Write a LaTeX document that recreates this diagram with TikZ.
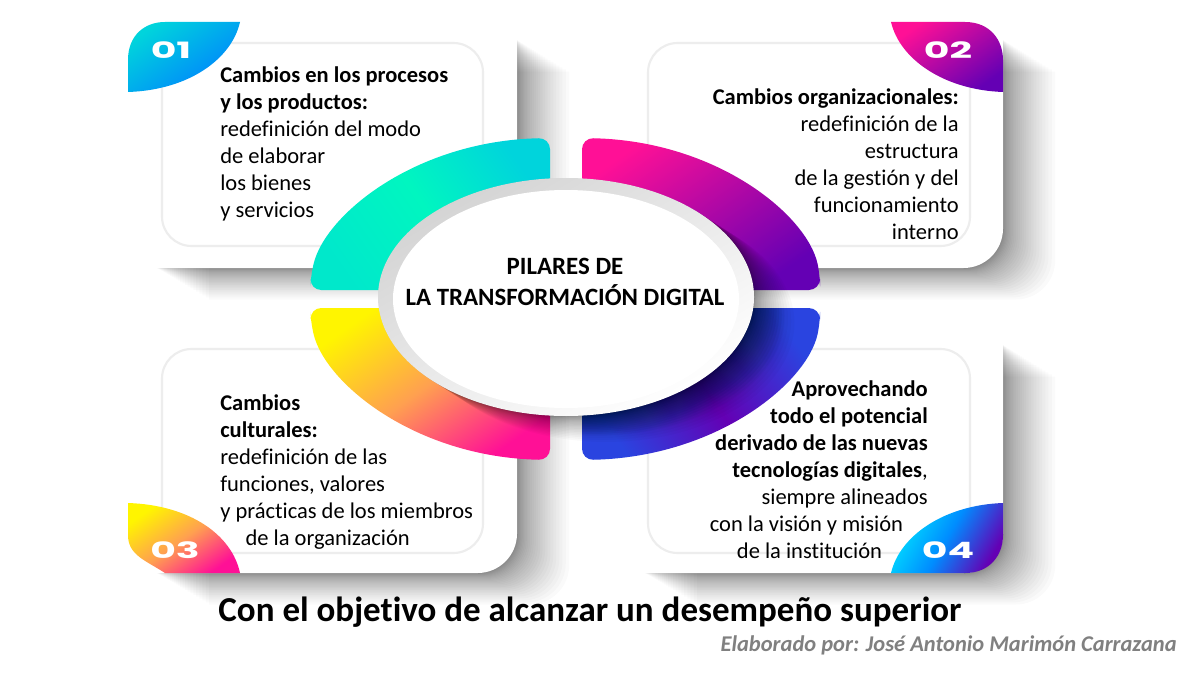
\documentclass[tikz,border=0pt]{standalone}
\usepackage{fontspec}
\setmainfont[Ligatures=NoCommon]{Carlito}
\newfontfamily\tagfont{Poppins}
\usetikzlibrary{shapes.geometric}
\definecolor{springA}{HTML}{00F6C0}
\definecolor{cyanA}{HTML}{00D4DC}
\definecolor{pinkA}{HTML}{FF1096}
\definecolor{purpleA}{HTML}{6400B4}
\definecolor{orangeA}{HTML}{FFA050}
\definecolor{yellowA}{HTML}{FFF500}
\definecolor{blueA}{HTML}{2A44E0}
\definecolor{navyA}{HTML}{0A2A80}
\begin{document}
\begin{tikzpicture}[x=0.025cm,y=-0.025cm]
		\tikzset{shadowlayer/.style = {black, opacity=0.02},
			ellipselayer/.style = {black, opacity=0.022},
			navylayer/.style = {navyA, opacity=0.07},
			innerbox/.style = {draw=black!7, line width=1.5pt, rounded corners=21pt},
			tagnum/.style = {white, font=\tagfont\bfseries\fontsize{16}{16}\selectfont, xscale=1.75, transform shape},
			body/.style = {font=\fontsize{16}{19.2}\selectfont, inner sep=0pt},
			arcshape/.style = {rounded corners=8pt}}

		\fill[white] (0,0) rectangle (1200,675);
		\useasboundingbox (0,0) rectangle (1200,675);

		\foreach \xa/\ya/\xb/\yb in {157/40/517/268, 650/40/1003/268, 157/345/517/573, 645/345/1003/573} {
			\foreach \i in {1,...,30} {
				\fill[shadowlayer, shift={(\i*\i*0.058,\i*\i*0.035)}] (\xa,\ya) -- (\xb,\ya) [rounded corners=28pt] -- (\xb,\yb) [sharp corners] -- (\xa,\yb) -- cycle;
			}
		}
		\foreach \xa/\ya/\xb/\yb in {135/40/517/268, 600/40/1003/268, 135/345/517/573, 600/345/1003/573} {
			\fill[white] (\xa,\ya) -- (\xb,\ya) [rounded corners=28pt] -- (\xb,\yb) [sharp corners] -- (\xa,\yb) -- cycle;
		}

		\draw[innerbox] (162,43) rectangle (483,246);
		\draw[innerbox] (648,43) rectangle (970,246);
		\draw[innerbox] (162,349) rectangle (483,553);
		\draw[innerbox] (648,349) rectangle (970,553);

		\shade[top color=cyanA, bottom color=blue!50!cyan, shading angle=35] (128,92) -- (128,60) .. controls (128,35) and (145,22) .. (165,22) -- (240,22) .. controls (232,58) and (190,90) .. (128,92) -- cycle;
		\shade[top color=pinkA, bottom color=purpleA, shading angle=35] (891,22) -- (965,22) .. controls (990,22) and (1003,40) .. (1003,60) -- (1003,92) .. controls (945,90) and (900,60) .. (891,22) -- cycle;
		\shade[top color=yellowA, bottom color=pinkA, middle color=orangeA, shading angle=35] (128,503) .. controls (190,505) and (232,535) .. (240,573) -- (165,573) .. controls (145,560) and (128,555) .. (128,535) -- cycle;
		\shade[top color=cyan!90!blue, bottom color=purpleA, middle color=blue!45!cyan, shading angle=60] (1003,503) .. controls (945,505) and (900,535) .. (891,573) -- (965,573) .. controls (990,573) and (1003,555) .. (1003,535) -- cycle;

		\shade[arcshape, top color=cyanA, bottom color=cyanA!40!springA, middle color=springA, shading angle=-55] (400,290) -- (310,290) -- (311,275) .. controls (325,215) and (415,141) .. (550,138) -- (550,220) -- cycle;
		\shade[arcshape, top color=pinkA, bottom color=purpleA, shading angle=35] (732,290) -- (820,290) -- (820,275) .. controls (807,215) and (717,141) .. (582,138) -- (582,220) -- cycle;
		\shade[arcshape, top color=yellowA, bottom color=pinkA, middle color=orangeA, shading angle=35] (400,308) -- (310,308) -- (311,323) .. controls (325,383) and (415,457) .. (550,460) -- (550,380) -- cycle;
		\shade[arcshape, top color=blueA, bottom color=blueA, middle color=purpleA, shading angle=-55] (732,308) -- (820,308) -- (820,323) .. controls (807,383) and (717,457) .. (582,460) -- (582,380) -- cycle;
		\begin{scope}
			\clip (732,308) -- (820,308) -- (820,323) .. controls (807,383) and (717,457) .. (582,460) -- (582,380) -- cycle;
			\foreach \i in {1,...,12} {
				\fill[navylayer, shift={(\i*2.5,\i*1.6)}] (566,297) ellipse [x radius=188, y radius=119];
			}
		\end{scope}

		\foreach \i in {1,...,24} {
			\fill[ellipselayer, shift={(\i*\i*0.07,\i*\i*0.045)}] (566,297) ellipse [x radius=188, y radius=119];
		}
		\shade[top color=black!17, bottom color=white, shading angle=30] (566,297) ellipse [x radius=188, y radius=119];
		\fill[white] (566,299) ellipse [x radius=173, y radius=109];

		\node[tagnum] (N_1) at (171,50) {01};
		\node[tagnum] (N_2) at (948,50) {02};
		\node[tagnum] (N_3) at (175,550) {03};
		\node[tagnum] (N_4) at (948,550) {04};

		\node[body, anchor=north west, align=left] (T_1) at (220,66) {\textbf{Cambios en los procesos}\\ \textbf{y los productos:}\\ redefinición del modo\\ de elaborar\\ los bienes\\ y servicios};
		\node[body, anchor=north east, align=right] (T_2) at (959,88) {\textbf{Cambios organizacionales:}\\ redefinición de la\\ estructura\\ de la gestión y del\\ funcionamiento\\ interno};
		\node[body, anchor=north west, align=left] (T_3) at (220,394) {\textbf{Cambios}\\ \textbf{culturales:}\\ redefinición de las\\ funciones, valores\\ y prácticas de los miembros\\ \hspace*{18pt}de la organización};
		\node[body, anchor=north east, align=right] (T_4) at (928,380) {\textbf{Aprovechando}\\ \textbf{todo el potencial}\\ \textbf{derivado de las nuevas}\\ \textbf{tecnologías digitales},\\ siempre alineados\\ con la visión y misión\rule{17.5pt}{0pt}\\ de la institución\rule{32.5pt}{0pt}};

		\node[font=\bfseries\fontsize{17.7}{22}\selectfont, align=center, inner sep=0pt] (T_0) at (565,282) {PILARES DE\\ LA TRANSFORMACIÓN DIGITAL};
		\node[font=\bfseries\fontsize{24.9}{24.9}\selectfont, inner sep=0pt] (T_5) at (590,612) {Con el objetivo de alcanzar un desempeño superior};
		\node[font=\bfseries\itshape\fontsize{16}{16}\selectfont, text=black!50, anchor=east, inner sep=0pt] (T_6) at (1177,645) {Elaborado por: José Antonio Marimón Carrazana};
	\end{tikzpicture}
\end{document}
